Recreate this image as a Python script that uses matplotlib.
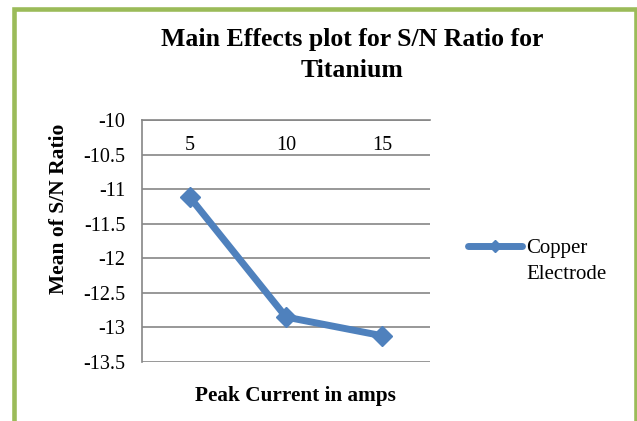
import matplotlib
matplotlib.use("Agg")
import matplotlib.pyplot as plt
from matplotlib.patches import Rectangle
from matplotlib.legend_handler import HandlerLine2D

categories = ["5", "10", "15"]
values = [-11.12, -12.85, -13.12]
series_name = "Copper\nElectrode"
yticks = [-10, -10.5, -11, -11.5, -12, -12.5, -13, -13.5]
ytick_labels = ["-10", "-10.5", "-11", "-11.5", "-12", "-12.5", "-13", "-13.5"]

plt.rcParams['font.family'] = ['Liberation Serif', 'DejaVu Serif']


class FirstLineHandler(HandlerLine2D):
    """Draw the legend line level with the first line of a two-line label."""
    def create_artists(self, legend, orig_handle, xdescent, ydescent, width, height,
                       fontsize, trans):
        return super().create_artists(legend, orig_handle, xdescent, ydescent, width,
                                      height + 1.43 * fontsize, fontsize, trans)


fig = plt.figure(figsize=(6.37, 4.21), dpi=100)
fig.patch.set_facecolor('white')

# green frame (bottom edge cut off by the image)
fig.patches.append(Rectangle((13.5/637, -0.02), 622.5/637, 1.0 - 9/421 + 0.02,
                             transform=fig.transFigure, fill=False,
                             edgecolor='#9BBB59', linewidth=3.3))

ax = fig.add_axes([142/637, 1 - 362/421, (430 - 142)/637, (362 - 120)/421])
x = list(range(len(categories)))
line, = ax.plot(x, values, color='#4F81BD', linewidth=5, marker='D', markersize=10.5,
                markerfacecolor='#4F81BD', markeredgecolor='#4F81BD', solid_capstyle='round')
ax.set_xlim(-0.5, len(categories) - 0.5)
ax.set_ylim(-13.5, -10)
ax.set_yticks(yticks)
ax.set_yticklabels(ytick_labels, fontsize=14.5)
ax.yaxis.grid(True, color='#868686', linewidth=1.2)
ax.set_axisbelow(True)
ax.tick_params(axis='y', length=0, pad=12)

ax.xaxis.set_ticks_position('top')
ax.set_xticks(x)
ax.set_xticklabels(categories, fontsize=14.5)
ax.tick_params(axis='x', length=0, pad=-25)

for s in ['right', 'bottom']:
    ax.spines[s].set_visible(False)
for s in ['left', 'top']:
    ax.spines[s].set_color('#868686')
    ax.spines[s].set_linewidth(1.2)

fig.text(59/637, 1 - 209/421, "Mean of S/N Ratio", fontsize=15.5, fontweight='bold',
         rotation=90, ha='center', va='center')
fig.text(295/637, 1 - 396/421, "Peak Current in amps", fontsize=15.3, fontweight='bold',
         ha='center', va='center')
fig.text(352/637, 1 - 28/421, "Main Effects plot for S/N Ratio for\nTitanium", fontsize=18.5,
         fontweight='bold', ha='center', va='top', linespacing=1.45)

leg = fig.legend([line], [series_name], loc='upper left', bbox_to_anchor=(468/637, 1 - 239/421),
                 frameon=False, fontsize=15, handlelength=2.6, handletextpad=0.2,
                 borderaxespad=0, borderpad=0,
                 handler_map={line: FirstLineHandler()})
leg.get_texts()[0].set_linespacing(1.5)
leg.legend_handles[0].set_markersize(6)

fig.savefig("out.png", dpi=100)
